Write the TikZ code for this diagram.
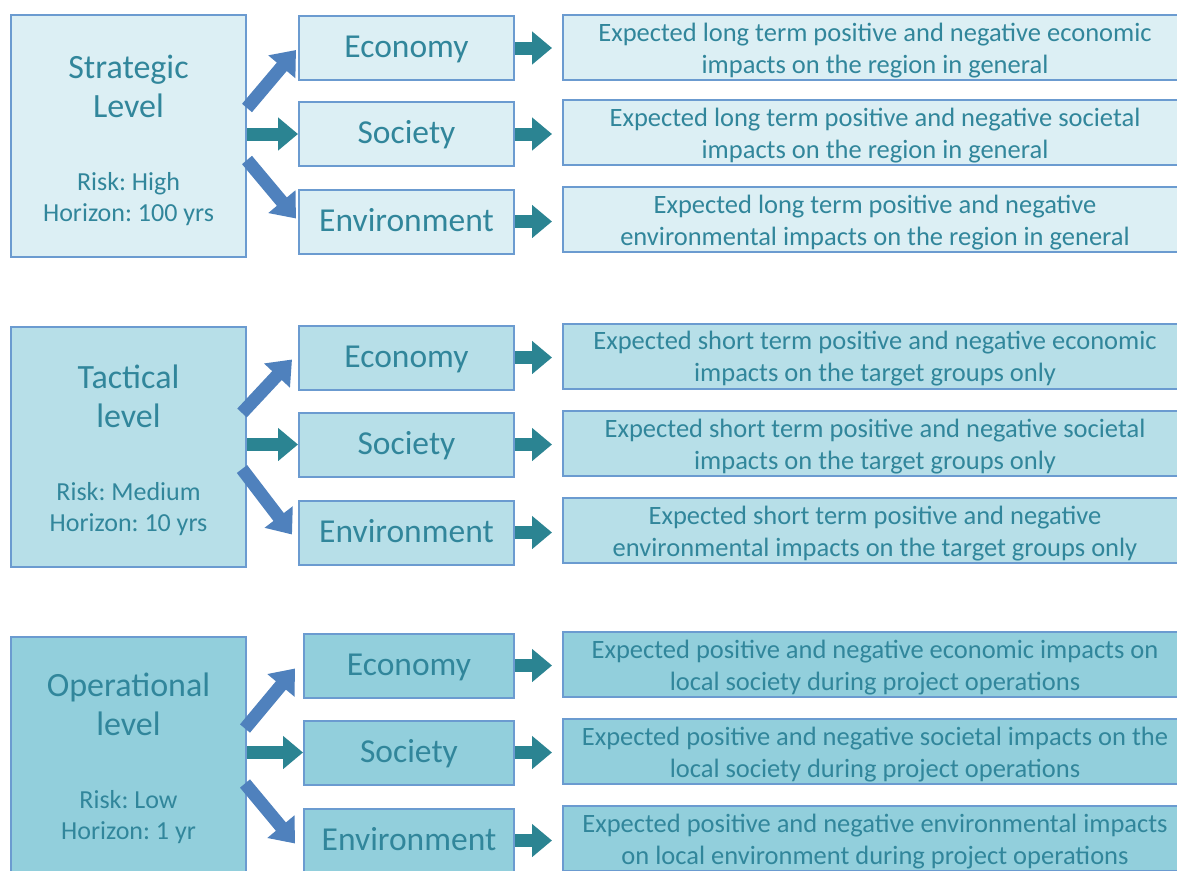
\documentclass[tikz,border=0pt]{standalone}
\usepackage{fontspec}
\setmainfont{Carlito}
\usetikzlibrary{arrows.meta}
\definecolor{txt}{HTML}{31869B}
\definecolor{bord}{HTML}{6B9BD0}
\definecolor{fillA}{HTML}{DCEFF4}
\definecolor{fillB}{HTML}{B7DFE8}
\definecolor{fillC}{HTML}{92CFDC}
\definecolor{blueArr}{HTML}{4F81BD}
\definecolor{tealArr}{HTML}{2B8492}
\tikzset{
  box/.style={draw=bord, line width=2pt, rectangle, inner sep=0pt, text=txt, align=center},
  lvlbox/.style={box, minimum width=235pt},
  midbox/.style={box, minimum height=64pt, text height=26pt, text depth=7pt, font=\fontsize{33.5}{38}\selectfont},
  rbox/.style={box, minimum width=624pt, minimum height=65pt},
  rtxt/.style={text=txt, align=center, inner sep=0pt, font=\fontsize{26.5}{32}\selectfont},
  ttl/.style={text=txt, align=center, inner sep=0pt, font=\fontsize{34}{39}\selectfont},
  rsk/.style={text=txt, align=center, inner sep=0pt, font=\fontsize{26}{31}\selectfont},
  harr/.style={draw=tealArr, line width=13pt, -{Triangle[width=32pt,length=20pt]}},
  darr/.style={draw=blueArr, line width=13pt, -{Triangle[width=34pt,length=22pt]}},
}
\newcommand\impactbox[4]{%
  \node[rbox, fill=#2] (#1) at (#3) {};
  \node[rtxt] (#1t) at ([yshift=-3pt]#1.center) {#4};}
\begin{document}
\frenchspacing
\begin{tikzpicture}[x=1pt,y=-1pt]
\clip (0,0) rectangle (1177,870);
\fill[white] (0,0) rectangle (1177,870);
% ---------- Strategic ----------
\node[lvlbox, fill=fillA, minimum height=242pt] (L1) at (128.5,136) {};
\node[ttl] (t1) at (128.5,86) {Strategic\\Level};
\node[rsk] (k1) at (128.5,199) {Risk: High\\Horizon: 100 yrs};
\node[midbox, fill=fillA, minimum width=215pt] (e1) at (406.5,48) {Economy};
\node[midbox, fill=fillA, minimum width=215pt] (s1) at (406.5,134) {Society};
\node[midbox, fill=fillA, minimum width=215pt] (v1) at (406.5,221.5) {Environment};
\impactbox{re1}{fillA}{875,47.5}{Expected long term positive and negative economic\\impacts on the region in general}
\impactbox{rs1}{fillA}{875,132.5}{Expected long term positive and negative societal\\impacts on the region in general}
\impactbox{rv1}{fillA}{875,219.5}{Expected long term positive and negative\\environmental impacts on the region in general}
% ---------- Tactical ----------
\node[lvlbox, fill=fillB, minimum height=240pt] (L2) at (128.5,447) {};
\node[ttl] (t2) at (128.5,396) {Tactical\\level};
\node[rsk] (k2) at (128.5,509) {Risk: Medium\\Horizon: 10 yrs};
\node[midbox, fill=fillB, minimum width=215pt] (e2) at (406.5,357.5) {Economy};
\node[midbox, fill=fillB, minimum width=215pt] (s2) at (406.5,444.5) {Society};
\node[midbox, fill=fillB, minimum width=215pt] (v2) at (406.5,532.5) {Environment};
\impactbox{re2}{fillB}{875,356}{Expected short term positive and negative economic\\impacts on the target groups only}
\impactbox{rs2}{fillB}{875,443.5}{Expected short term positive and negative societal\\impacts on the target groups only}
\impactbox{rv2}{fillB}{875,530.5}{Expected short term positive and negative\\environmental impacts on the target groups only}
% ---------- Operational ----------
\node[lvlbox, fill=fillC, minimum height=243pt] (L3) at (128.5,758.5) {};
\node[ttl] (t3) at (128.5,704.5) {Operational\\level};
\node[rsk] (k3) at (128.5,817.5) {Risk: Low\\Horizon: 1 yr};
\node[midbox, fill=fillC, minimum width=210pt] (e3) at (409,665.5) {Economy};
\node[midbox, fill=fillC, minimum width=210pt] (s3) at (409,752.5) {Society};
\node[midbox, fill=fillC, minimum width=210pt] (v3) at (409,840.5) {Environment};
\impactbox{re3}{fillC}{875,664.5}{Expected positive and negative economic impacts on\\local society during project operations}
\impactbox{rs3}{fillC}{875,751.5}{Expected positive and negative societal impacts on the\\local society during project operations}
\impactbox{rv3}{fillC}{875,838.5}{Expected positive and negative environmental impacts\\on local environment during project operations}
% ---------- Arrows: level -> aspects ----------
\draw[darr] ([yshift=28pt]L1.east) -- ([xshift=-2pt,yshift=-2pt]e1.west);
\draw[harr] (s1.west -| L1.east) -- (s1.west);
\draw[darr] ([yshift=-24pt]L1.east) -- ([xshift=-2pt,yshift=3pt]v1.west);
\draw[darr] ([xshift=-5pt,yshift=34pt]L2.east) -- ([xshift=-6pt,yshift=-2pt]e2.west);
\draw[harr] (s2.west -| L2.east) -- (s2.west);
\draw[darr] ([xshift=-5pt,yshift=-22pt]L2.east) -- ([xshift=-6pt,yshift=-2pt]v2.west);
\draw[darr] ([xshift=-2pt,yshift=30pt]L3.east) -- ([xshift=-8pt,yshift=-3pt]e3.west);
\draw[harr] (s3.west -| L3.east) -- (s3.west);
\draw[darr] ([xshift=-2pt,yshift=-25pt]L3.east) -- ([xshift=-8pt,yshift=-3pt]v3.west);
% ---------- Arrows: aspects -> impacts ----------
\foreach \a/\b in {e1/re1,s1/rs1,v1/rv1,e2/re2,s2/rs2,v2/rv2,e3/re3,s3/rs3,v3/rv3}{
  \draw[harr] (\a.east) -- ([xshift=-10pt]\a.east -| \b.west);
}
\end{tikzpicture}
\end{document}
